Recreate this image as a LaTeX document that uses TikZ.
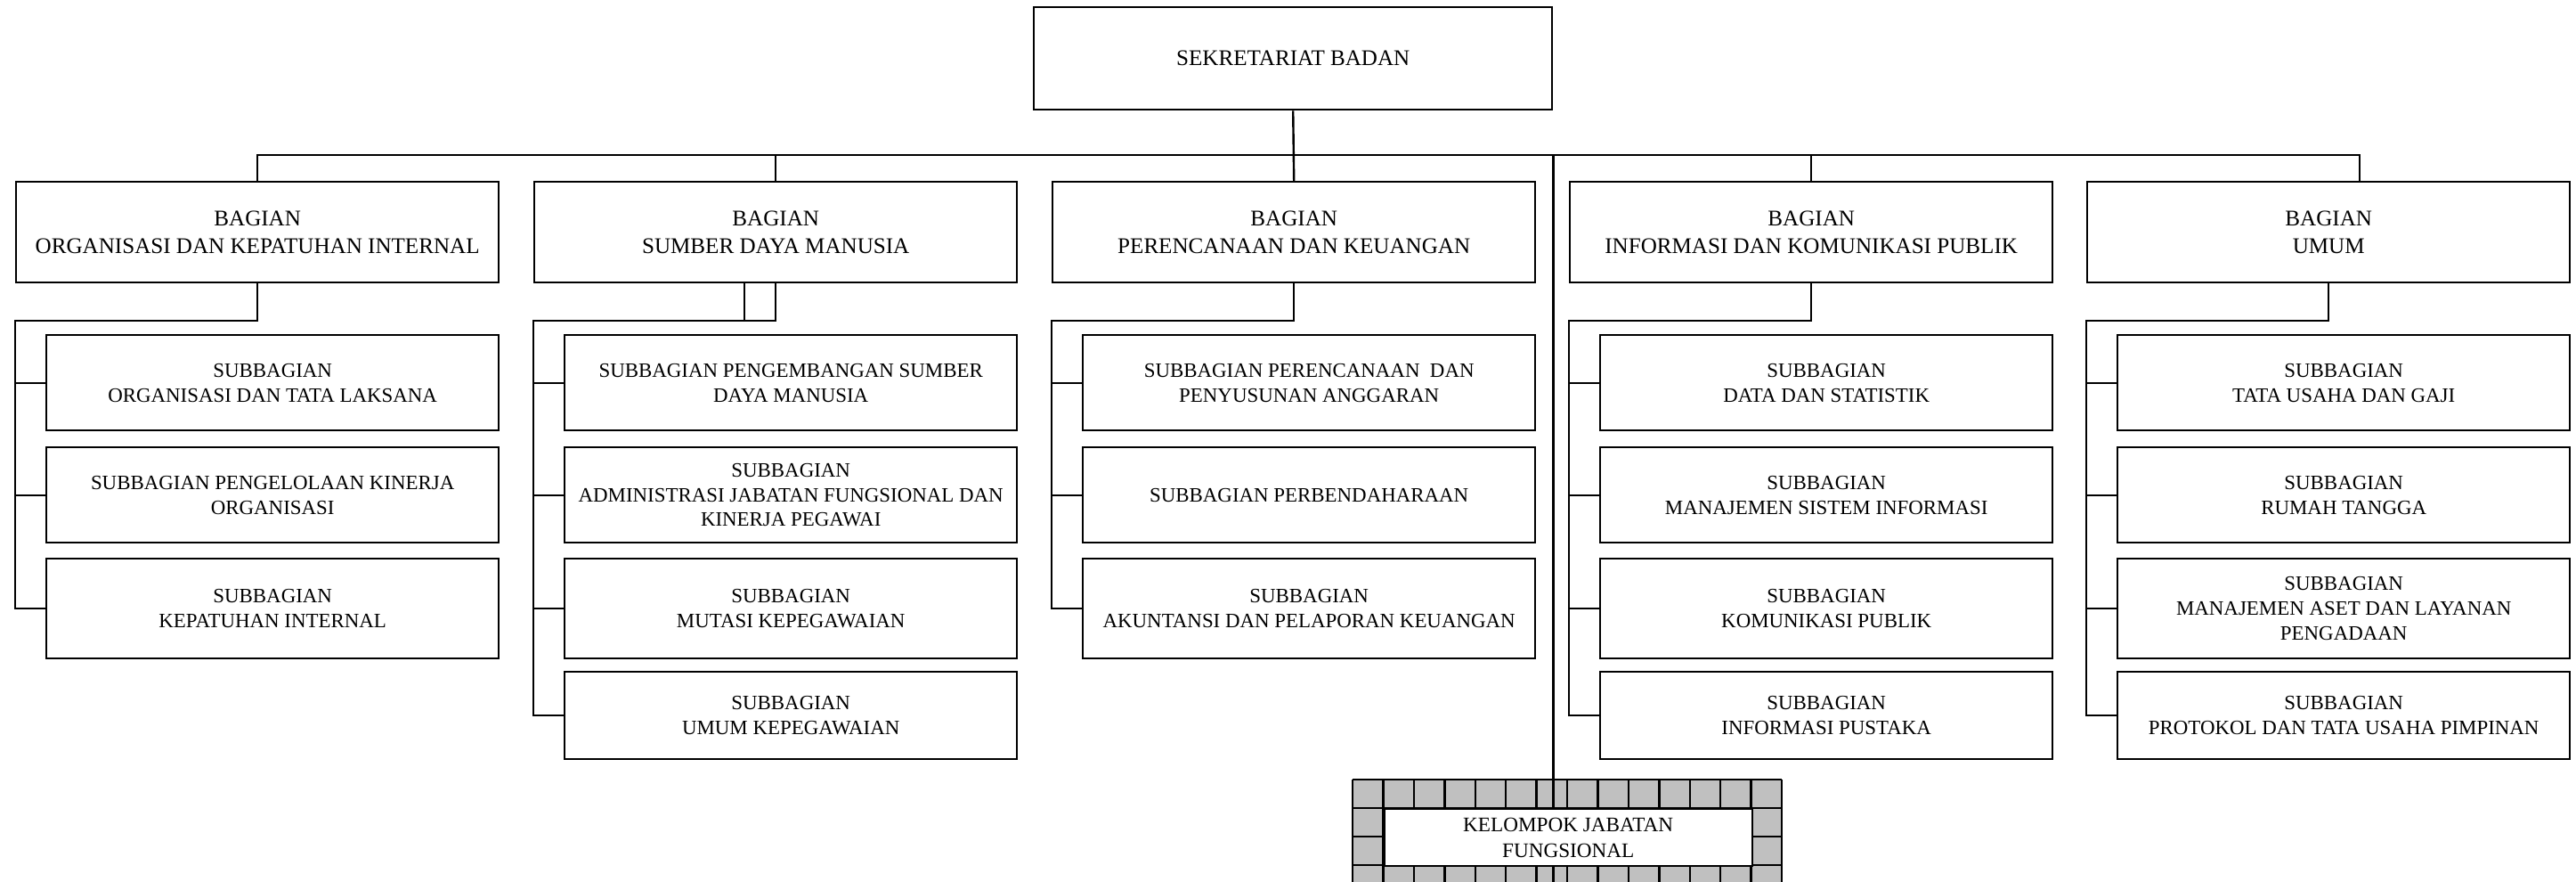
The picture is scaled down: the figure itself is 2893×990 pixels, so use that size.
\documentclass[tikz,border=0pt]{standalone}
\usepackage{fontspec}
\setmainfont{Liberation Serif}
\definecolor{cellgray}{RGB}{192,192,192}
\tikzset{
  ln/.style={line width=2.4pt},
  box/.style={draw, line width=2.4pt, inner sep=0pt, align=center, anchor=north west},
  bagfont/.style={font=\fontsize{25.1}{30.5}\selectfont},
  subfont/.style={font=\fontsize{22.9}{27.7}\selectfont},
  bag/.style={box, bagfont, minimum width=542pt, minimum height=113pt},
  sub/.style={box, subfont, minimum width=508pt},
  ra/.style={minimum height=107pt},
  rb/.style={minimum height=107pt},
  rc/.style={minimum height=112pt},
  rd/.style={minimum height=98pt},
}
\begin{document}
\begin{tikzpicture}[x=1pt,y=-1pt]
\useasboundingbox (0,0) rectangle (2893,990);
% top
\node[box,bagfont,minimum width=582pt,minimum height=115pt] (top) at (1160,7) {SEKRETARIAT BADAN};
% bagian
\node[bag] (b1) at (17,203) {BAGIAN\\ORGANISASI DAN KEPATUHAN INTERNAL};
\node[bag] (b2) at (599,203) {BAGIAN\\SUMBER DAYA MANUSIA};
\node[bag] (b3) at (1181,203) {BAGIAN\\PERENCANAAN DAN KEUANGAN};
\node[bag] (b4) at (1762,203) {BAGIAN\\INFORMASI DAN KOMUNIKASI PUBLIK};
\node[bag] (b5) at (2343,203) {BAGIAN\\UMUM};
% column 1
\node[sub,ra] (s11) at (51,375) {SUBBAGIAN\\ORGANISASI DAN TATA LAKSANA};
\node[sub,rb] (s12) at (51,501) {SUBBAGIAN PENGELOLAAN KINERJA\\ORGANISASI};
\node[sub,rc] (s13) at (51,626) {SUBBAGIAN\\KEPATUHAN INTERNAL};
% column 2
\node[sub,ra] (s21) at (633,375) {SUBBAGIAN PENGEMBANGAN SUMBER\\DAYA MANUSIA};
\node[sub,rb] (s22) at (633,501) {SUBBAGIAN\\ADMINISTRASI JABATAN FUNGSIONAL DAN\\KINERJA PEGAWAI};
\node[sub,rc] (s23) at (633,626) {SUBBAGIAN\\MUTASI KEPEGAWAIAN};
\node[sub,rd] (s24) at (633,753) {SUBBAGIAN\\UMUM KEPEGAWAIAN};
% column 3
\node[sub,ra] (s31) at (1215,375) {SUBBAGIAN PERENCANAAN\ \ DAN\\PENYUSUNAN ANGGARAN};
\node[sub,rb] (s32) at (1215,501) {SUBBAGIAN PERBENDAHARAAN};
\node[sub,rc] (s33) at (1215,626) {SUBBAGIAN\\AKUNTANSI DAN PELAPORAN KEUANGAN};
% column 4
\node[sub,ra] (s41) at (1796,375) {SUBBAGIAN\\DATA DAN STATISTIK};
\node[sub,rb] (s42) at (1796,501) {SUBBAGIAN\\MANAJEMEN SISTEM INFORMASI};
\node[sub,rc] (s43) at (1796,626) {SUBBAGIAN\\KOMUNIKASI PUBLIK};
\node[sub,rd] (s44) at (1796,753) {SUBBAGIAN\\INFORMASI PUSTAKA};
% column 5
\node[sub,ra] (s51) at (2377,375) {SUBBAGIAN\\TATA USAHA DAN GAJI};
\node[sub,rb] (s52) at (2377,501) {SUBBAGIAN\\RUMAH TANGGA};
\node[sub,rc] (s53) at (2377,626) {SUBBAGIAN\\MANAJEMEN ASET DAN LAYANAN\\PENGADAAN};
\node[sub,rd] (s54) at (2377,753) {SUBBAGIAN\\PROTOKOL DAN TATA USAHA PIMPINAN};
% bus
\coordinate (bus) at (0,174);
\coordinate (sbus) at (0,360);
\coordinate (b5in) at (2650,203);
\coordinate (kend) at (0,990);
\coordinate (b2x) at (836,0);
\draw[ln] (b1.north) -- (b1.north |- bus) -- (b5in |- bus) -- (b5in);
\draw[ln] (b2.north) -- (b2.north |- bus);
\draw[ln] (b4.north) -- (b4.north |- bus);
\draw[ln] (top.south) -- (b3.north);
% sub connectors
\foreach \c/\last in {1/s13,2/s24,3/s33,4/s44,5/s54}{
  \draw[ln] (b\c.south) -- (b\c.south |- sbus) -- (b\c.south west |- sbus)
    -- (b\c.south west |- \last.west) -- (\last.west);
}
\foreach \s/\c in {s11/1,s12/1,s21/2,s22/2,s23/2,s31/3,s32/3,s41/4,s42/4,s43/4,s51/5,s52/5,s53/5}{
  \draw[ln] (\s.west) -- (\s.west -| b\c.south west);
}
\draw[ln] (b2x |- b2.south) -- (b2x |- sbus);
% kelompok jabatan fungsional
\fill[cellgray] (1519,875) rectangle (2001,990);
\foreach \i in {0,...,14}{
  \draw[ln] (1519+\i*34.4286,875) -- (1519+\i*34.4286,990);
}
\foreach \yy in {875,907,939,971}{
  \draw[ln] (1519,\yy) -- (2001,\yy);
}
\draw[ln] (top.south east |- bus) -- (top.south east |- kend);
\node[box,fill=white,minimum width=413.14pt,minimum height=64pt,
      font=\fontsize{23.2}{29.5}\selectfont] (kjf) at (1553.43,907) {KELOMPOK JABATAN\\FUNGSIONAL};
\end{tikzpicture}
\end{document}
